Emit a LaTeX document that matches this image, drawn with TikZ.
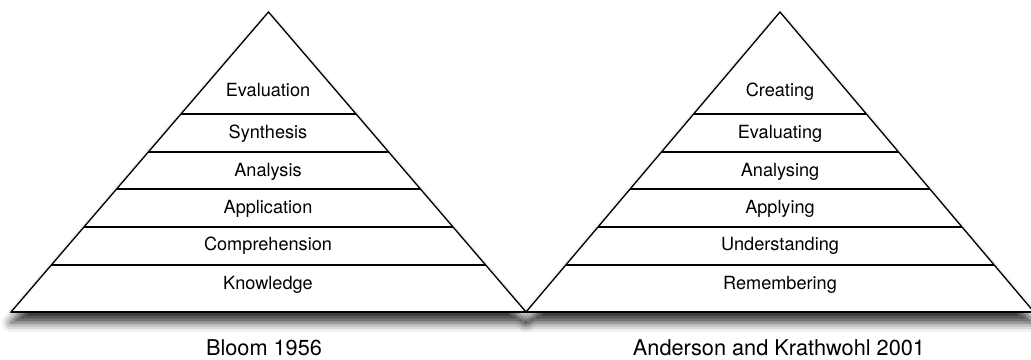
\documentclass[tikz,border=0pt]{standalone}
\usepackage{fontspec}
\setmainfont{TeX Gyre Heros}
\usetikzlibrary{calc,shadows.blur}

\begin{document}
\begin{tikzpicture}[x=0.75pt, y=-0.75pt,
    pyramid/.style={draw, line width=1pt, fill=white, line join=miter,
        blur shadow={shadow xshift=0pt, shadow yshift=-8pt, shadow blur radius=7pt, shadow opacity=80}},
    level/.style={line width=1pt},
    base/.style={line width=1.6pt},
    stage/.style={anchor=base, inner sep=0pt, font=\fontsize{13.6}{16}\selectfont},
    caption/.style={anchor=base, inner sep=0pt, font=\fontsize{16.3}{19}\selectfont}]
    \useasboundingbox (0,0) rectangle (1031,360);
    % Corners of both pyramids
    \coordinate (bt) at (268.5,12);
    \coordinate (bl) at (11,312);
    \coordinate (br) at (526,312);
    \coordinate (at) at (780,12);
    \coordinate (al) at (526,312);
    \coordinate (ar) at (1034,312);
    % Pyramid bodies
    \draw[pyramid] (bt) -- (bl) -- (br) -- cycle;
    \draw[pyramid] (at) -- (al) -- (ar) -- cycle;
    \draw[base] (bl) -- (br);
    \draw[base] (al) -- (ar);
    % Layer separators
    \foreach \y in {114,152,189,227,265} {
        \draw[level] ($(bt)!{(\y-12)/300}!(bl)$) -- ($(bt)!{(\y-12)/300}!(br)$);
        \draw[level] ($(at)!{(\y-12)/300}!(al)$) -- ($(at)!{(\y-12)/300}!(ar)$);
    }
    % Bloom 1956 levels
    \foreach \name/\txt/\y in {eval/Evaluation/96, synth/Synthesis/138, anal/Analysis/176,
        appl/Application/213, comp/Comprehension/250, know/Knowledge/289}
        \node[stage] (b-\name) at (268,\y) {\txt};
    % Anderson and Krathwohl 2001 levels
    \foreach \name/\txt/\y in {crea/Creating/96, eval/Evaluating/138, anal/Analysing/176,
        appl/Applying/213, under/Understanding/250, remem/Remembering/289}
        \node[stage] (a-\name) at (780,\y) {\txt};
    % Captions
    \node[caption] (bloom) at (264,355) {Bloom 1956};
    \node[caption] (anderson) at (779,355) {Anderson and Krathwohl 2001};
\end{tikzpicture}
\end{document}
